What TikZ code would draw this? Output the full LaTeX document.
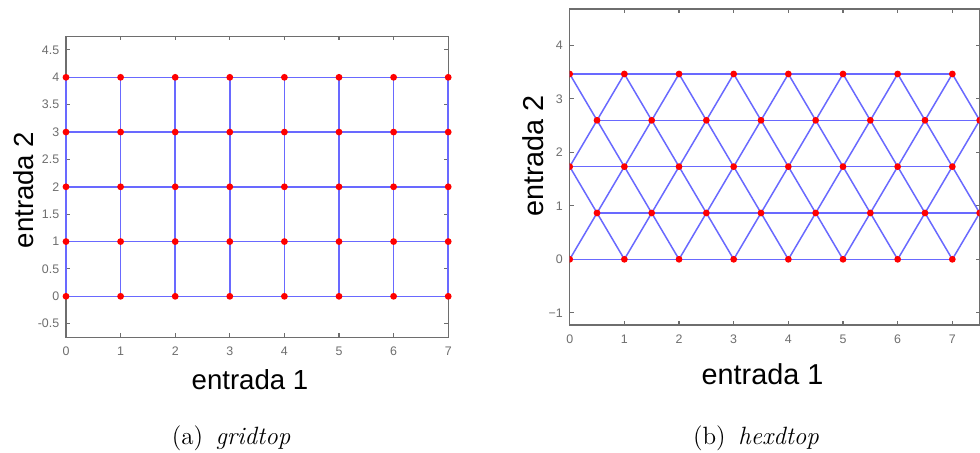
\documentclass[tikz,border=0pt]{standalone}
\usepackage{fontspec}
\newfontfamily\arialf{Liberation Sans}
\definecolor{netblue}{RGB}{105,105,255}
\definecolor{axgray}{RGB}{110,110,110}
\tikzset{
  link/.style={draw=netblue, line width=0.75pt},
  neuron/.style={fill=red},
  axbox/.style={draw=axgray, line width=0.55pt},
  ticklab/.style={font=\arialf\fontsize{6.2}{7}\selectfont, text=axgray, inner sep=0pt},
  axlabel/.style={font=\arialf\fontsize{13.8}{16}\selectfont, inner sep=0pt},
  axlabelb/.style={font=\arialf\fontsize{14.4}{16}\selectfont, inner sep=0pt},
  caplab/.style={font=\fontsize{12.5}{15}\selectfont, inner sep=0pt}
}
\begin{document}
\begin{tikzpicture}[x=0.5pt,y=-0.5pt]
\useasboundingbox (0,0) rectangle (980,452);
\fill[white] (0,0) rectangle (980,452);

% ---------------- left plot: gridtop ----------------
\begin{scope}[shift={(33pt,-148.15pt)}, x=27.3pt, y=27.375pt]
  \draw[axbox] (0,-0.75) rectangle (7,4.75);
  \foreach \i in {1,...,6} {
    \draw[axbox] (\i,-0.75) -- ++(0,2pt);
    \draw[axbox] (\i,4.75) -- ++(0,-2pt);
  }
  \foreach \v in {-0.5,0,0.5,1,1.5,2,2.5,3,3.5,4,4.5} {
    \draw[axbox] (0,\v) -- ++(2pt,0);
    \draw[axbox] (7,\v) -- ++(-2pt,0);
  }
  \foreach \t/\v in {-0.5/-0.5,0/0,0.5/0.5,1/1,1.5/1.5,2/2,2.5/2.5,3/3,3.5/3.5,4/4,4.5/4.5}
    \node[ticklab, anchor=east] (gyl\v) at ([xshift=-3.2pt]0,\v) {\t};
  \foreach \i in {0,...,7}
    \node[ticklab] (gxl\i) at ([yshift=-6.8pt]\i,-0.75) {\i};
  % neurons
  \foreach \i in {0,...,7}
    \foreach \j in {0,...,4}
      \coordinate (g-\i-\j) at (\i,\j);
  \foreach \j in {0,...,4}
    \foreach \i in {0,...,6} {
      \pgfmathtruncatemacro\ii{\i+1}
      \draw[link] (g-\i-\j) -- (g-\ii-\j);
    }
  \foreach \i in {0,...,7}
    \foreach \j in {0,...,3} {
      \pgfmathtruncatemacro\jj{\j+1}
      \draw[link] (g-\i-\j) -- (g-\i-\jj);
    }
  \foreach \i in {0,...,7}
    \foreach \j in {0,...,4}
      \fill[neuron] (g-\i-\j) circle (1.7pt);
\end{scope}
\node[axlabel, anchor=base] (gxlab) at (250,389) {entrada 1};
\node[axlabel, anchor=base, rotate=90] (gylab) at (33,190) {entrada 2};
\node[caplab, anchor=base] (capa) at (231,444) {(a)\enspace\textit{gridtop}};

% ---------------- right plot: hextop ----------------
\begin{scope}[shift={(284.85pt,-129.65pt)}, x=27.33pt, y=26.75pt]
  \draw[axbox] (0,-1.228) rectangle (7.5,4.678);
  \foreach \i in {1,...,7} {
    \draw[axbox] (\i,-1.228) -- ++(0,2pt);
    \draw[axbox] (\i,4.678) -- ++(0,-2pt);
  }
  \foreach \v in {-1,0,1,2,3,4} {
    \draw[axbox] (0,\v) -- ++(2pt,0);
    \draw[axbox] (7.5,\v) -- ++(-2pt,0);
  }
  \foreach \t/\v in {−1/-1,0/0,1/1,2/2,3/3,4/4}
    \node[ticklab, anchor=east] (hyl\v) at ([xshift=-3.3pt]0,\v) {\t};
  \foreach \i in {0,...,7}
    \node[ticklab] (hxl\i) at ([yshift=-7pt]\i,-1.228) {\i};
  \foreach \j in {0,...,4}
    \foreach \i in {0,...,7} {
      \pgfmathsetmacro\xx{\i+0.5*mod(\j,2)}
      \coordinate (h-\i-\j) at (\xx,\j*0.8660254);
    }
  \begin{scope}
    \clip (0,-1.228) rectangle (7.5,4.678);
    \foreach \j in {0,...,4}
      \foreach \i in {0,...,6} {
        \pgfmathtruncatemacro\ii{\i+1}
        \draw[link] (h-\i-\j) -- (h-\ii-\j);
      }
    \foreach \j in {0,...,3} {
      \pgfmathtruncatemacro\jj{\j+1}
      \foreach \i in {0,...,7}
        \draw[link] (h-\i-\j) -- (h-\i-\jj);
      \ifodd\j
        \foreach \i in {0,...,6} {
          \pgfmathtruncatemacro\ii{\i+1}
          \draw[link] (h-\i-\j) -- (h-\ii-\jj);
        }
      \else
        \foreach \i in {1,...,7} {
          \pgfmathtruncatemacro\ii{\i-1}
          \draw[link] (h-\i-\j) -- (h-\ii-\jj);
        }
      \fi
    }
    \foreach \j in {0,...,4}
      \foreach \i in {0,...,7}
        \fill[neuron] (h-\i-\j) circle (1.7pt);
  \end{scope}
\end{scope}
\node[axlabelb, anchor=base] (hxlab) at (762.5,384) {entrada 1};
\node[axlabelb, anchor=base, rotate=90] (hylab) at (543,156) {entrada 2};
\node[caplab, anchor=base] (capb) at (756,444) {(b)\enspace\textit{hexdtop}};
\end{tikzpicture}
\end{document}
